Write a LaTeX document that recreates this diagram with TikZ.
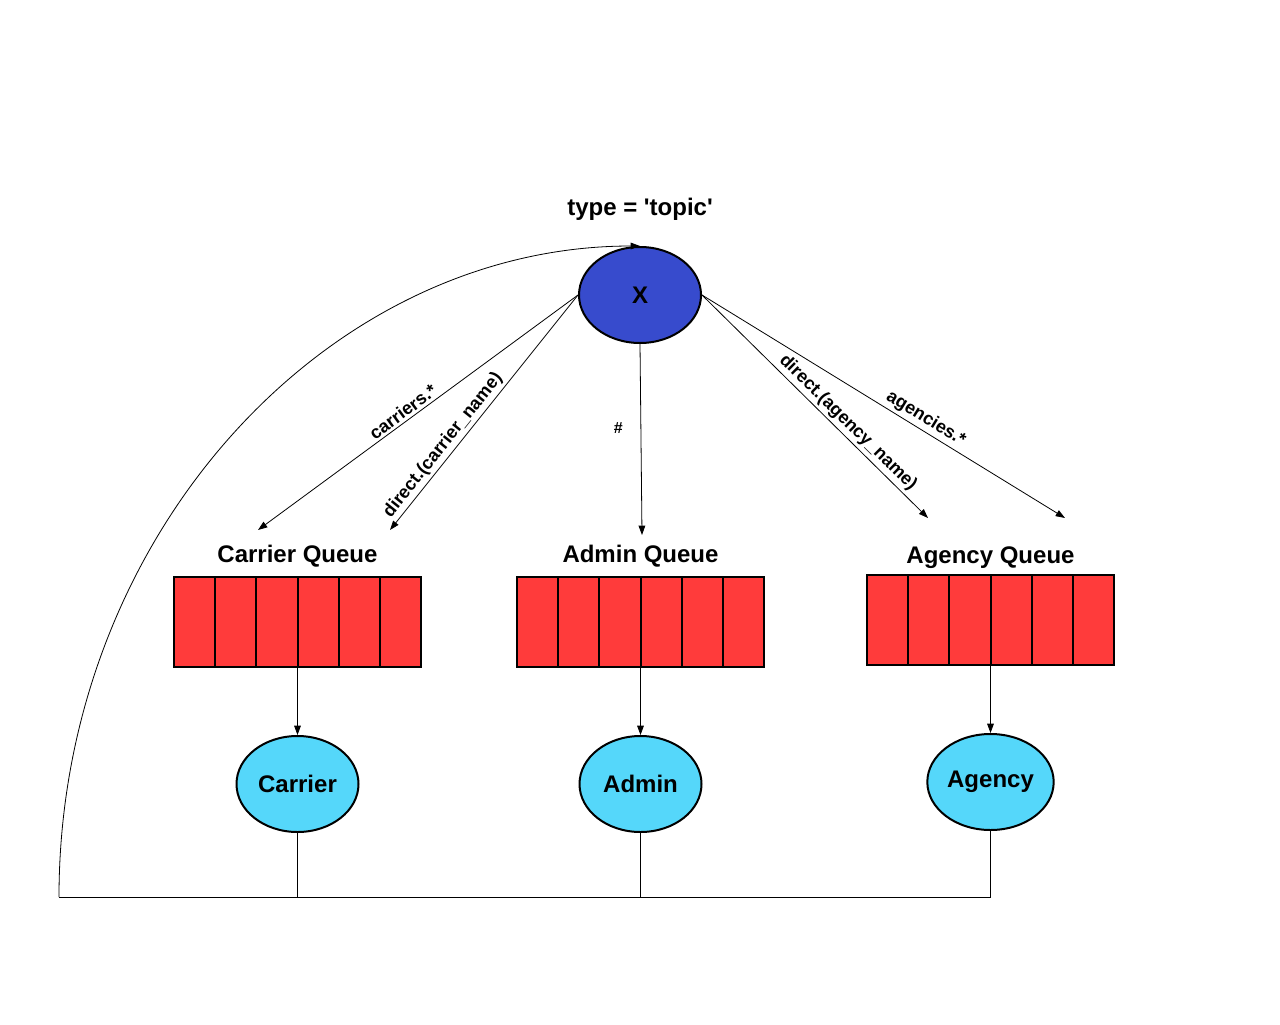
\documentclass[tikz,border=0pt]{standalone}
\usepackage{fontspec}
\setmainfont{Liberation Sans}
\usetikzlibrary{positioning,arrows.meta,shapes.geometric}
\definecolor{xblue}{RGB}{55,75,205}
\definecolor{qred}{RGB}{255,59,59}
\definecolor{cblue}{RGB}{85,215,250}

\begin{document}
\begin{tikzpicture}[x=0.75pt,y=-0.75pt]
\tikzstyle{big}=[font=\fontsize{18}{22}\selectfont\bfseries];
\tikzstyle{exchange}=[draw,ellipse,big,inner sep=1pt,line width=1.5pt,fill=xblue,minimum width=91.5pt,minimum height=72pt];
\tikzstyle{consumer}=[exchange,fill=cblue];
\tikzstyle{queue}=[draw,line width=1.5pt,fill=qred,minimum width=185.25pt,minimum height=67.5pt,inner sep=0pt,outer sep=0pt];
\tikzstyle{qlabel}=[big,inner sep=0pt,text depth=0pt];
\tikzstyle{route}=[font=\fontsize{13.5}{16}\selectfont\bfseries,sloped,above,inner sep=2pt];
\tikzstyle{link}=[-{Triangle[length=7pt,width=5pt]},line width=0.6pt];
\useasboundingbox (0,0) rectangle (1280,1024);

% exchange
\node[exchange] (X) at (640,295) {X};
\node[big] (type) at (640,209) {type = \textquotesingle topic\textquotesingle};

% queues
\node[queue] (cq) at (297.5,622) {};
\node[queue] (aq) at (640.5,622) {};
\node[queue] (gq) at (990.5,620) {};
\foreach \q in {cq,aq,gq}
	\foreach \i in {1,...,5}
		\draw[line width=1.5pt] (\q.south west) ++(\i*41.17,0) -- ++(0,-90);
\node[qlabel,above=11pt of cq] (cqlabel) {Carrier Queue};
\node[qlabel,above=11pt of aq] (aqlabel) {Admin Queue};
\node[qlabel,above=8.5pt of gq] (gqlabel) {Agency Queue};

% consumers
\node[consumer,below=51pt of cq] (carrier) {Carrier};
\node[consumer,below=51pt of aq] (admin) {Admin};
\node[consumer,below=51pt of gq] (agency) {Agency};

% routing keys
\coordinate (cq1) at (258,530);
\coordinate (cq2) at (390,530);
\coordinate (aq1) at (642,535);
\coordinate (gq1) at (928,518);
\coordinate (gq2) at (1065,518);
\draw[link] (X.west) -- node[route,pos=0.53] {carriers.*} (cq1);
\draw[link] (X.west) -- node[route,pos=0.67] {direct.(carrier\_name)} (cq2);
\draw[link] (X.south) -- node[left=10pt,pos=0.44,font=\fontsize{12}{14}\selectfont\bfseries] {\#} (aq1);
\draw[link] (X.east) -- node[route,pos=0.61] {direct.(agency\_name)} (gq1);
\draw[link] (X.east) -- node[route,pos=0.6] {agencies.*} (gq2);

\draw[link] (cq.south) -- (carrier.north);
\draw[link] (aq.south) -- (admin.north);
\draw[link] (gq.south) -- (agency.north);

% back to the exchange
\coordinate (bus) at (59,897);
\draw[line width=0.6pt] (carrier.south) -- (carrier.south |- bus);
\draw[line width=0.6pt] (admin.south) -- (admin.south |- bus);
\draw[line width=0.6pt] (agency.south) -- (agency.south |- bus);
\draw[line width=0.6pt] (bus) -- (agency.south |- bus);
\draw[link] (bus) .. controls +(0,-359) and +(-315,0) .. (X.north);
\end{tikzpicture}
\end{document}
